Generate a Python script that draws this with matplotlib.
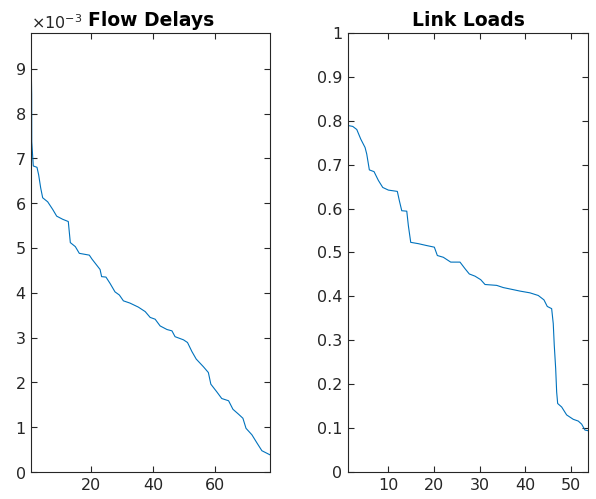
import numpy as np
import matplotlib
matplotlib.use("Agg")
import matplotlib.pyplot as plt
from matplotlib.ticker import FuncFormatter

# flow delays (sorted), values in seconds
delay_x = [0.9, 1.02, 1.05, 1.54, 2.73, 3.27, 3.92, 4.56, 6.17, 7.78, 9.06, 10.99, 12.79,
           13.44, 15.05, 16.33, 19.55, 20.42, 23.0, 23.5, 24.9, 26.2, 27.8, 29.2, 30.5,
           32.6, 35.3, 37.5, 39.1, 40.7, 42.3, 44.5, 46.1, 47.1, 49.8, 51.1, 52.5, 53.9,
           56.2, 57.8, 58.6, 60.5, 62.1, 64.3, 65.7, 67.5, 68.9, 69.9, 71.8, 73.4, 75.0, 77.7]
delay_ms = [8.97, 8.42, 7.37, 6.83, 6.80, 6.63, 6.34, 6.12, 6.03, 5.86, 5.71, 5.64, 5.59,
            5.12, 5.03, 4.88, 4.84, 4.75, 4.52, 4.36, 4.35, 4.21, 4.02, 3.95, 3.82,
            3.77, 3.68, 3.58, 3.45, 3.41, 3.26, 3.18, 3.15, 3.02, 2.95, 2.89, 2.69, 2.52,
            2.35, 2.22, 1.96, 1.79, 1.64, 1.59, 1.40, 1.29, 1.20, 0.975, 0.83, 0.65, 0.475, 0.38]
delays = np.array(delay_ms) * 1e-3

# link loads (sorted)
load_x = [1.16, 2.19, 3.07, 3.95, 4.89, 5.26, 5.83, 6.86, 7.81, 8.77, 10.0, 11.97, 12.41,
          12.94, 14.04, 14.39, 14.91, 16.58, 18.27, 20.09, 20.75, 22.06, 23.68, 25.72,
          26.82, 27.76, 29.01, 30.26, 31.21, 33.77, 35.22, 37.06, 38.88, 41.07, 42.89,
          44.14, 44.87, 45.83, 46.18, 46.40, 46.71, 46.93, 47.15, 48.03, 49.12, 50.57,
          51.67, 52.41, 53.14, 53.86]
loads = [0.789, 0.787, 0.780, 0.758, 0.739, 0.724, 0.688, 0.684, 0.664, 0.648, 0.642, 0.639, 0.618,
         0.595, 0.594, 0.561, 0.523, 0.520, 0.516, 0.512, 0.493, 0.489, 0.478, 0.478,
         0.463, 0.451, 0.446, 0.438, 0.427, 0.425, 0.420, 0.416, 0.412, 0.408, 0.402,
         0.392, 0.377, 0.372, 0.338, 0.289, 0.236, 0.182, 0.156, 0.148, 0.130, 0.120,
         0.116, 0.109, 0.0955, 0.094]

line_color = "#0072BD"
axis_color = "#262626"

fig = plt.figure(figsize=(5.96, 4.99), dpi=100)
ax1 = fig.add_axes([0.0525, 0.0541, 0.401, 0.88])
ax2 = fig.add_axes([0.584, 0.0541, 0.403, 0.88])


def matlab_style(ax):
    for s in ax.spines.values():
        s.set_color(axis_color)
        s.set_linewidth(0.8)
    ax.tick_params(direction="in", length=4, width=0.8, top=True, right=True,
                   colors=axis_color, labelsize=11.5, labelcolor=axis_color, pad=4)


ax1.plot(delay_x, delays, color=line_color, lw=0.8)
ax1.set_xlim(0.9, 77.7)
ax1.set_ylim(0, 9.8e-3)
ax1.set_xticks([20, 40, 60])
ax1.set_yticks(np.arange(0, 10) * 1e-3)
ax1.ticklabel_format(axis="y", style="sci", scilimits=(-3, -3), useMathText=True)
ax1.yaxis.get_offset_text().set_color("#555555")
ax1.yaxis.get_offset_text().set_fontsize(11.5)
matlab_style(ax1)
ax1.set_title("Flow Delays", fontsize=13.5, fontweight="bold", pad=5)

ax2.plot(load_x, loads, color=line_color, lw=0.8)
ax2.set_xlim(1.16, 53.86)
ax2.set_ylim(0, 1)
ax2.set_xticks([10, 20, 30, 40, 50])
ax2.set_yticks(np.arange(0, 11) / 10)
ax2.yaxis.set_major_formatter(FuncFormatter(lambda v, p: "%g" % round(v, 1)))
matlab_style(ax2)
ax2.set_title("Link Loads", fontsize=13.5, fontweight="bold", pad=5)

fig.savefig("out.png", dpi=100)
